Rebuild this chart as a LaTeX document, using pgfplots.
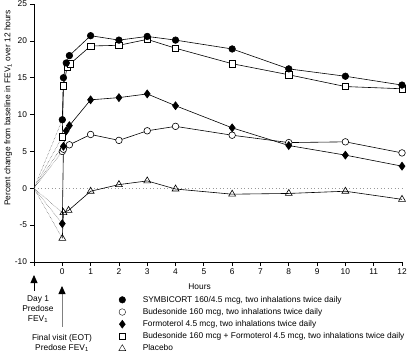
\documentclass[border=0pt]{standalone}
\usepackage{pgfplots}
\pgfplotsset{compat=1.18}
\usepackage{fontspec}
\setmainfont{Liberation Sans}
\usetikzlibrary{arrows.meta}
\begin{document}
\fontsize{8.4}{10}\selectfont
\begin{tikzpicture}[x=1bp,y=1bp]
\useasboundingbox (0,0) rectangle (408,354);
\begin{axis}[
  at={(34bp,92bp)}, anchor=south west,
  scale only axis, width=368bp, height=258bp,
  xmin=-1, xmax=12, ymin=-10, ymax=25,
  axis x line*=bottom, axis y line*=left,
  axis line style={line width=0.8bp, -},
  xtick={-1,0,...,12}, xticklabels={{},0,1,2,3,4,5,6,7,8,9,10,11,12},
  ytick={-10,-5,...,25},
  tick align=outside, major tick length=4bp,
  tick style={black, line width=0.7bp},
  /pgf/number format/assume math mode=true,
  ticklabel style={font=\fontsize{8.4}{10}\selectfont},
  xlabel={Hours},
  xlabel style={at={(axis description cs:0.45,-0.097)}, anchor=center, font=\fontsize{8.4}{10}\selectfont},
  ylabel={Percent change from baseline in FEV\textsubscript{1} over 12 hours},
  ylabel style={at={(axis description cs:-0.07,0.597)}, anchor=center, font=\fontsize{8.4}{10}\selectfont},
  legend style={at={(axis description cs:0.230,-0.128)}, anchor=north west, draw=none, fill=none,
    row sep=3bp, column sep=15bp, font=\fontsize{8.4}{10}\selectfont, inner xsep=0pt, inner ysep=0pt,
    nodes={inner ysep=0.5bp, text height=6.3bp, text depth=1.9bp}},
  legend cell align=left,
  clip=false,
]
% legend entries
\addlegendimage{only marks, mark=*, mark size=3.3bp, black, fill=black}
\addlegendentry{SYMBICORT 160/4.5 mcg, two inhalations twice daily}
\addlegendimage{only marks, mark=o, mark size=3.3bp, black}
\addlegendentry{Budesonide 160 mcg, two inhalations twice daily}
\addlegendimage{only marks, mark=diamond*, mark size=4bp, black, fill=black}
\addlegendentry{Formoterol 4.5 mcg, two inhalations twice daily}
\addlegendimage{only marks, mark=square, mark size=3.2bp, black}
\addlegendentry{Budesonide 160 mcg + Formoterol 4.5 mcg, two inhalations twice daily}
\addlegendimage{only marks, mark=triangle, mark size=4bp, black}
\addlegendentry{Placebo}
% zero line
\addplot[gray!80, line width=1.1bp, dash pattern=on 1.2bp off 2.3bp, forget plot] coordinates {(-1,0) (12,0)};
% dotted lines from Day 1 predose
\addplot[black!75, line width=0.45bp, densely dotted, forget plot] coordinates {(-1,0) (0,9.3)};
\addplot[black!75, line width=0.45bp, densely dotted, forget plot] coordinates {(-1,0) (0,7.0)};
\addplot[black!75, line width=0.45bp, densely dotted, forget plot] coordinates {(-1,0) (0,5.7)};
\addplot[black!75, line width=0.45bp, densely dotted, forget plot] coordinates {(-1,0) (0,5.0)};
\addplot[black!75, line width=0.45bp, densely dotted, forget plot] coordinates {(-1,0) (0,-3.3)};
\addplot[black!75, line width=0.45bp, densely dotted, forget plot] coordinates {(-1,0) (0,-4.8)};
\addplot[black!75, line width=0.45bp, densely dotted, forget plot] coordinates {(-1,0) (0,-6.8)};
% Placebo
\addplot[black, line width=0.6bp, mark=triangle, mark size=4bp, mark options={fill=white}, forget plot] coordinates {
(0,-6.8) (0.04,-3.3) (0.22,-3.0) (1,-0.4) (2,0.5) (3,1.0) (4,-0.1) (6,-0.8) (8,-0.7) (10,-0.4) (12,-1.5)};
% Budesonide
\addplot[black, line width=0.6bp, mark=*, mark size=3.3bp, mark options={fill=white}, forget plot] coordinates {
(0,5.0) (0.04,5.3) (0.25,5.9) (1,7.3) (2,6.5) (3,7.8) (4,8.4) (6,7.2) (8,6.2) (10,6.3) (12,4.8)};
% Formoterol
\addplot[black, line width=0.6bp, mark=diamond*, mark size=4bp, mark options={fill=black}, forget plot] coordinates {
(0,-4.8) (0.04,5.7) (0.14,7.8) (0.25,8.5) (1,12.0) (2,12.3) (3,12.8) (4,11.2) (6,8.2) (8,5.8) (10,4.5) (12,3.0)};
% Budesonide + Formoterol
\addplot[black, line width=0.6bp, mark=square*, mark size=3.2bp, mark options={fill=white}, forget plot] coordinates {
(0,7.0) (0.04,13.9) (0.17,16.4) (0.28,16.9) (1,19.3) (2,19.4) (3,20.2) (4,19.0) (6,16.9) (8,15.4) (10,13.8) (12,13.5)};
% SYMBICORT
\addplot[black, line width=0.6bp, mark=*, mark size=3.3bp, mark options={fill=black}, forget plot] coordinates {
(0,9.3) (0.04,15.0) (0.14,17.0) (0.25,18.0) (1,20.7) (2,20.1) (3,20.6) (4,20.1) (6,18.9) (8,16.2) (10,15.2) (12,14.0)};
\end{axis}
% annotations below the axis
\draw[line width=0.8bp, -{Triangle[length=8bp,width=7bp]}] (34,63) -- (34,79);
\node[align=center, inner sep=0pt] at (38,45) {Day 1\\Predose\\FEV\textsubscript{1}};
\draw[gray, line width=0.8bp, -{Triangle[length=8bp,width=7bp,color=black]}] (62,27) -- (62,68);
\node[align=center, inner sep=0pt] at (62,11) {Final visit (EOT)\\Predose FEV\textsubscript{1}};
\end{tikzpicture}
\end{document}
